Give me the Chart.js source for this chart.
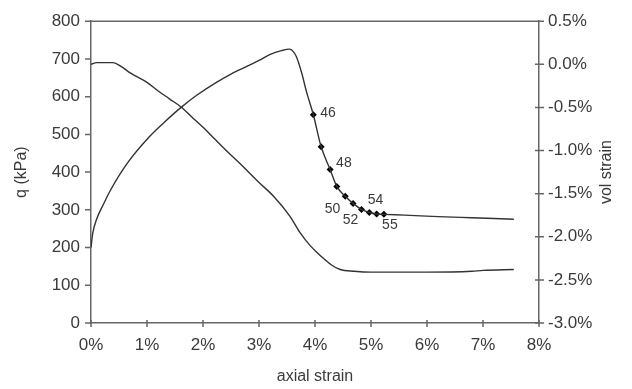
<!DOCTYPE html>
<html>
<head>
<meta charset="utf-8">
<script src="https://cdn.jsdelivr.net/npm/chart.js@4/dist/chart.umd.min.js"></script>
<style>
  body { margin: 0; background: #fff; }
</style>
</head>
<body>
<canvas id="chart" width="632" height="389"></canvas>
<script>
// deviator stress q vs axial strain (left axis)
const strainQ = [0.0, 0.03, 0.1, 0.22, 0.34, 0.64, 1.05, 1.3, 1.62, 1.9, 2.24, 2.5, 2.84, 3.0, 3.2, 3.4, 3.55, 3.62, 3.67, 3.76, 3.85,
                 3.97, 4.11, 4.27, 4.39, 4.54, 4.68, 4.83, 4.97, 5.10, 5.23, 5.6, 6.2, 6.8, 7.2, 7.55];
const qVals = [200, 237, 275, 314, 350, 422, 495, 531, 573, 605, 638, 660, 684, 696, 712, 722, 726, 718, 705, 664, 612,
               552, 467, 407, 362, 336, 317, 301, 293, 289, 288, 286, 282, 279, 277, 275];

// volumetric strain vs axial strain (right axis, %)
const strainVol = [0.0, 0.1, 0.39, 0.55, 0.7, 1.0, 1.2, 1.4, 1.62, 1.8, 2.0, 2.2, 2.4, 2.66, 3.0, 3.26, 3.55, 3.73, 3.91,
                   4.05, 4.15, 4.3, 4.45, 4.7, 5.0, 6.0, 6.8, 7.0, 7.55];
const volVals = [0.0, 0.02, 0.02, -0.03, -0.10, -0.21, -0.31, -0.40, -0.50, -0.61, -0.73, -0.86, -0.99, -1.15, -1.37, -1.53, -1.76, -1.95, -2.10,
                 -2.19, -2.25, -2.33, -2.38, -2.40, -2.41, -2.41, -2.40, -2.39, -2.38];

// numbered stages marked on the q curve
const markerIds = [46, 47, 48, 49, 50, 51, 52, 53, 54, 55];
const markerStrain = [3.97, 4.11, 4.27, 4.39, 4.54, 4.68, 4.83, 4.97, 5.10, 5.23];
const markerQ = [552, 467, 407, 362, 336, 317, 301, 293, 289, 288];
const labelledIds = [46, 48, 50, 52, 54, 55];

const textColor = '#3a3a3a';
const axisColor = '#666';

// where each stage number sits relative to its marker
const labelOffsets = {
    46: {dx: 7, dy: -2, align: 'left'},
    48: {dx: 6, dy: -6, align: 'left'},
    50: {dx: -5, dy: 13, align: 'right'},
    52: {dx: -11, dy: 11, align: 'center'},
    54: {dx: -1, dy: -14, align: 'center'},
    55: {dx: 6, dy: 11, align: 'center'}
};

const extras = {
    id: 'extras',
    afterDraw(chart) {
        const {ctx, chartArea: a, scales} = chart;
        ctx.save();
        ctx.strokeStyle = axisColor;
        ctx.lineWidth = 1.5;
        ctx.beginPath();
        // top border of plot area
        ctx.moveTo(a.left, a.top);
        ctx.lineTo(a.right, a.top);
        scales.y.ticks.forEach(t => {
            const p = scales.y.getPixelForValue(t.value);
            ctx.moveTo(a.left - 6, p); ctx.lineTo(a.left, p);
        });
        scales.y2.ticks.forEach(t => {
            const p = scales.y2.getPixelForValue(t.value);
            ctx.moveTo(a.right - 4, p); ctx.lineTo(a.right + 5, p);
        });
        scales.x.ticks.forEach(t => {
            const p = scales.x.getPixelForValue(t.value);
            ctx.moveTo(p, a.bottom - 3); ctx.lineTo(p, a.bottom + 4);
        });
        ctx.stroke();

        // stage numbers
        ctx.fillStyle = textColor;
        ctx.font = '14px "Liberation Sans", Arial, sans-serif';
        ctx.textBaseline = 'middle';
        markerIds.forEach((id, i) => {
            if (!labelledIds.includes(id)) return;
            const o = labelOffsets[id];
            const px = scales.x.getPixelForValue(markerStrain[i]);
            const py = scales.y.getPixelForValue(markerQ[i]);
            ctx.textAlign = o.align;
            ctx.fillText(String(id), px + o.dx, py + o.dy);
        });

        // right axis title, reading bottom to top
        ctx.font = '16px "Liberation Sans", Arial, sans-serif';
        ctx.textAlign = 'center';
        ctx.translate(607, (a.top + a.bottom) / 2);
        ctx.rotate(-Math.PI / 2);
        ctx.fillText('vol strain', 0, 0);
        ctx.restore();
    }
};

const tickFont = {family: '"Liberation Sans", Arial, sans-serif', size: 17};
const titleFont = {family: '"Liberation Sans", Arial, sans-serif', size: 16};

new Chart(document.getElementById('chart'), {
    type: 'scatter',
    data: {
        datasets: [
            {
                data: strainQ.map((x, i) => ({x: x, y: qVals[i]})),
                yAxisID: 'y',
                showLine: true,
                borderColor: '#333',
                borderWidth: 1.4,
                pointRadius: 0,
                cubicInterpolationMode: 'monotone'
            },
            {
                data: strainVol.map((x, i) => ({x: x, y: volVals[i]})),
                yAxisID: 'y2',
                showLine: true,
                borderColor: '#333',
                borderWidth: 1.4,
                pointRadius: 0,
                cubicInterpolationMode: 'monotone'
            },
            {
                data: markerStrain.map((x, i) => ({x: x, y: markerQ[i]})),
                yAxisID: 'y',
                showLine: false,
                pointStyle: 'rectRot',
                pointRadius: 3.5,
                backgroundColor: '#000',
                borderColor: '#000',
                borderWidth: 0
            }
        ]
    },
    options: {
        responsive: false,
        animation: false,
        layout: {padding: {top: 14, left: 0, right: 0, bottom: 0}},
        plugins: {
            legend: {display: false},
            tooltip: {enabled: false}
        },
        scales: {
            x: {
                type: 'linear',
                min: 0, max: 8,
                afterFit: s => { s.height = 66; },
                grid: {display: false, drawTicks: false},
                border: {display: true, color: axisColor, width: 1.5},
                ticks: {stepSize: 1, color: textColor, font: tickFont, padding: 12,
                        maxRotation: 0, callback: v => v + '%'},
                title: {display: true, text: 'axial strain', color: textColor, font: titleFont,
                        padding: {top: 0, bottom: 3}}
            },
            y: {
                position: 'left',
                min: 0, max: 800,
                afterFit: s => { s.width = 91; },
                grid: {display: false, drawTicks: false},
                border: {display: true, color: axisColor, width: 1.5},
                ticks: {stepSize: 100, color: textColor, font: tickFont, padding: 11},
                title: {display: true, text: 'q (kPa)', color: textColor, font: titleFont,
                        padding: {top: 12, bottom: 0}}
            },
            y2: {
                position: 'right',
                min: -3, max: 0.5,
                afterFit: s => { s.width = 93; },
                grid: {display: false, drawTicks: false},
                border: {display: true, color: axisColor, width: 1.5},
                ticks: {stepSize: 0.5, color: textColor, font: tickFont, padding: 9,
                        callback: v => v.toFixed(1) + '%'}
            }
        }
    },
    plugins: [extras]
});
</script>
</body>
</html>
